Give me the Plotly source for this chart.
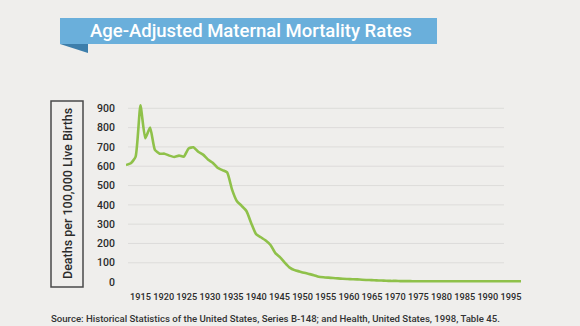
import plotly.graph_objects as go

years = list(range(1915, 1998))
rates = [
    606, 615, 650, 916, 745, 800, 685, 665, 665, 655,
    648, 655, 650, 692, 698, 675, 660, 635, 618, 592,
    580, 568, 480, 420, 395, 368, 305, 248, 232, 215,
    192, 150, 128, 100, 75, 62, 55, 48, 42, 36,
    28, 25, 23, 21, 19, 17, 16, 15, 14, 12,
    11, 10, 9, 8, 7, 6, 6, 5, 5, 5,
    4, 4, 4, 4, 4, 4, 4, 4, 4, 4,
    4, 4, 4, 4, 4, 4, 4, 4, 4, 4,
    4, 4, 4,
]
tick_years = list(range(1915, 2000, 5))
tick_labels = [str(y) for y in tick_years]
y_ticks = list(range(0, 1000, 100))

title_text = "Age-Adjusted Maternal Mortality Rates"
y_title = "Deaths per 100,000 Live Births"
source_text = ("Source: Historical Statistics of the United States, Series B-148; "
               "and Health, United States, 1998, Table 45.")

FONT = "Roboto, sans-serif"
BG = "#efeeec"
W, H = 580, 326
L, R, T, B = 126, 59, 100, 36
PW, PH = W - L - R, H - T - B


def px(x):
    return (x - L) / PW


def py(y):
    return (H - B - y) / PH


fig = go.Figure()
fig.add_trace(go.Scatter(
    x=years, y=rates, mode="lines",
    line=dict(color="#8fc14a", width=2.6, shape="spline", smoothing=0.5),
    hoverinfo="skip", showlegend=False,
))
fig.add_trace(go.Scatter(
    x=tick_years, y=[0] * len(tick_years), xaxis="x2", mode="markers",
    marker=dict(opacity=0), hoverinfo="skip", showlegend=False,
))

shapes = []
for v in y_ticks[1:]:
    shapes.append(dict(type="line", xref="paper", yref="y", x0=px(128), x1=px(504),
                       y0=v, y1=v, line=dict(color="#dddcda", width=1), layer="below"))
# title banner
shapes.append(dict(type="rect", xref="paper", yref="paper", x0=px(60), x1=px(437),
                   y0=py(44), y1=py(18), fillcolor="#6aafdb", line=dict(width=0)))
shapes.append(dict(type="path", xref="paper", yref="paper",
                   path=f"M {px(60)},{py(44)} L {px(88)},{py(44)} L {px(88)},{py(53)} Z",
                   fillcolor="#3d7eab", line=dict(width=0)))
# y title box
shapes.append(dict(type="rect", xref="paper", yref="paper", x0=px(51), x1=px(83),
                   y0=py(287), y1=py(101), line=dict(color="#4a4a4a", width=1.5)))

annotations = [
    dict(text=title_text, xref="paper", yref="paper", x=px(251), y=py(31),
         showarrow=False, xanchor="center", yanchor="middle",
         font=dict(family=FONT, size=18.5, color="white", weight=500)),
    dict(text=y_title, xref="paper", yref="paper", x=px(67), y=py(194),
         showarrow=False, textangle=-90, xanchor="center", yanchor="middle",
         font=dict(family=FONT, size=12.5, color="#2b2b2b", weight=500)),
    dict(text=source_text, xref="paper", yref="paper", x=px(49), y=py(318),
         showarrow=False, xanchor="left", yanchor="middle",
         font=dict(family=FONT, size=9.6, color="#333333", weight=500)),
]

fig.update_layout(
    width=W, height=H, margin=dict(l=L, r=R, t=T, b=B),
    paper_bgcolor=BG, plot_bgcolor=BG,
    shapes=shapes, annotations=annotations, showlegend=False,
    xaxis=dict(range=[1915, 1997], showgrid=False, zeroline=False,
               showticklabels=False, ticks="", fixedrange=True),
    xaxis2=dict(overlaying="x", anchor="y", side="bottom",
                range=[1915 - 14.5 / 4.631, 1995 + 10 / 4.631],
                tickvals=tick_years, ticktext=tick_labels, showgrid=False,
                zeroline=False, ticks="", ticklabelstandoff=0, tickangle=0,
                tickfont=dict(family=FONT, size=9.2, color="#2b2b2b", weight=500)),
    yaxis=dict(range=[-41, 943], tickvals=y_ticks, showgrid=False, zeroline=False,
               ticks="", ticklabelstandoff=10,
               tickfont=dict(family=FONT, size=10.5, color="#2b2b2b", weight=500)),
)

fig.write_html("out.html")
